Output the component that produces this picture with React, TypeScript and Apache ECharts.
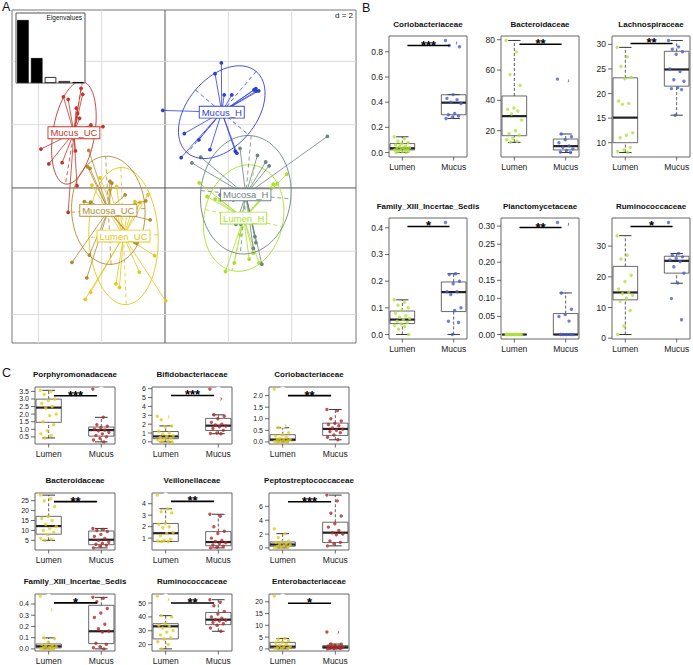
import React, { useEffect, useRef } from "react";
import * as echarts from "echarts";

const FONT = '"Liberation Sans", Arial, Helvetica, sans-serif';

// ---------------- Panel A : class scores (d = 2) ----------------
const pcaGroupNames = ["Mucus_UC", "Mucosa_UC", "Lumen_UC", "Mucus_H", "Mucosa_H", "Lumen_H"];
const pcaMucusUC = [[-3.21, 2.88], [-3.06, 2.8], [-2.65, 3.15], [-2.6, 2.96], [-2.8, 2.52], [-2.76, 2.36], [-2.7, 2.2], [-2.34, 1.99], [-2.46, 1.85], [-1.96, 1.94], [-3.92, 1.23], [-3.67, 0.76], [-3.25, 0.8], [-2.83, 1.17], [-2.78, 0.07], [-3.06, -0.77]];
const pcaMucosaUC = [[-2.41, 1.19], [-2.45, 0.67], [-2.37, 0.62], [-2.55, -0.43], [-2.35, -0.45], [-2.94, -2.35], [-2.47, -2.84], [-2.39, -2.12], [-1.74, 0.21], [-1.68, 0.15], [-0.61, -0.41], [-0.95, -1.72], [-0.89, -1.75], [-1.11, -0.85], [-1.26, -0.22], [-0.47, -1.01]];
const pcaLumenUC = [[-2.31, 0.09], [-2.52, -3.52], [-2.35, -3.3], [-1.55, -3.03], [-1.44, -3.14], [-0.81, -2.66], [-0.33, -2.14], [0.02, -3.57], [-0.95, -0.43], [-0.79, -0.46], [-1.53, 0.04], [-1.17, -0.6], [-0.92, -1.64], [-2.05, 0.32], [-1.74, -0.06], [-0.54, -0.22]];
const pcaMucusH = [[-0.07, 2.45], [1.78, 3.95], [1.58, 3.61], [1.87, 2.94], [2.11, 2.94], [2.87, 3.14], [2.96, 3.07], [2.88, 3.06], [2.81, 3.1], [0.61, 1.72], [1.07, 1.52], [1.42, 1.21], [0.51, 0.96], [2.22, 1.16], [2.27, 1.1]];
const pcaMucosaH = [[5.13, 1.63], [0.85, 0.79], [1.13, 0.97], [2.37, 1.25], [2.92, 1.03], [3.18, 0.82], [3.29, 0.7], [3.06, -2.41], [2.87, -1.73], [2.39, -1.14], [2.24, -1.15], [1.86, -0.15], [2.84, -1.54], [2.79, -1.91], [2.16, -0.38], [1.74, -0.22]];
const pcaLumenH = [[3.85, 0.44], [3.54, 0.14], [3.42, 0.12], [3.35, -0.01], [1.08, 0.16], [1.33, -0.27], [1.58, -0.35], [1.74, -0.38], [1.91, -2.64], [2.19, -2.37], [2.66, -2.25], [2.97, -2.37], [2.79, -2.06], [2.37, -1.48]];
const pcaGroups = [pcaMucusUC, pcaMucosaUC, pcaLumenUC, pcaMucusH, pcaMucosaH, pcaLumenH];
const pcaGridValues = [-4, -2, 0, 2, 4];
const eigenvalues = [6.3, 2.5, 0.6, 0.2, 0.1];
const eigenIndex = ["1", "2", "3", "4", "5"];

const pcaColors = ["#c2362b", "#b38b2e", "#e5c619", "#2e3fd6", "#6e8383", "#a9e02c"];

// ---------------- Panel B ----------------
const sampleGroups = ["Lumen", "Mucus"];
const bTitles = ["Coriobacteriaceae", "Bacteroidaceae", "Lachnospiraceae", "Family_XIII_Incertae_Sedis", "Planctomycetaceae", "Ruminococcaceae"];
// [lower whisker, Q1, median, Q3, upper whisker]
const bLumenStats = [
  [0, 0.021, 0.034, 0.071, 0.125],
  [12.3, 16.7, 29.6, 42.9, 79.5],
  [8.0, 10.0, 15.1, 23.2, 29.4],
  [0, 0.041, 0.056, 0.088, 0.13],
  [0, 0, 0, 0, 0],
  [1.2, 12.5, 14.9, 23.4, 33.4],
];
const bMucusStats = [
  [0.27, 0.3, 0.396, 0.459, 0.46],
  [5.6, 7.3, 9.8, 14.5, 17.8],
  [15.6, 21.5, 24.9, 28.6, 30.8],
  [0, 0.086, 0.159, 0.197, 0.228],
  [0, 0, 0, 0.058, 0.115],
  [17.9, 21.2, 25.2, 26.7, 27.6],
];
const bLumenValues = [
  [0.125, 0.11, 0.09, 0.08, 0.07, 0.06, 0.05, 0.05, 0.04, 0.04, 0.035, 0.03, 0.03, 0.02, 0.02, 0.01, 0.01, 0.005, 0, 0],
  [79.5, 72, 57, 50, 35, 34, 33, 31, 27, 20, 18, 17, 15, 14, 13, 12.3],
  [29.4, 27.5, 25.5, 23.3, 23, 18.5, 18, 17.8, 12, 11.5, 11, 9, 8.5, 8.2, 8],
  [0.13, 0.12, 0.11, 0.1, 0.09, 0.08, 0.07, 0.065, 0.06, 0.055, 0.05, 0.045, 0.04, 0.035, 0.03, 0.02, 0],
  [0, 0, 0, 0, 0, 0, 0, 0, 0, 0, 0, 0, 0, 0, 0, 0],
  [33.4, 27, 25.8, 20.5, 18.5, 16, 15, 14.5, 14, 13, 12, 9, 4, 1.2],
];
const bMucusValues = [
  [0.89, 0.87, 0.85, 0.84, 0.46, 0.43, 0.42, 0.4, 0.39, 0.31, 0.3, 0.29, 0.28, 0.27],
  [54, 53, 17.8, 16, 14, 12, 10, 9, 8, 7, 6, 5.6],
  [30.8, 29.5, 29, 28.5, 28, 25, 24.5, 22.8, 22.5, 21.2, 21, 20.8, 15.6],
  [0.42, 0.228, 0.225, 0.2, 0.19, 0.16, 0.16, 0.15, 0.1, 0.09, 0.05, 0.045, 0],
  [0.31, 0.305, 0.115, 0.07, 0.055, 0.05, 0.037, 0, 0, 0, 0, 0],
  [37.7, 27.6, 27, 26.5, 26, 25.5, 25, 23.3, 21.2, 18, 12.9, 6.0],
];
const bTickLabels = [
  ["0.0", "0.2", "0.4", "0.6", "0.8"],
  ["20", "40", "60", "80"],
  ["10", "15", "20", "25", "30"],
  ["0.0", "0.1", "0.2", "0.3", "0.4"],
  ["0.00", "0.05", "0.10", "0.15", "0.20", "0.25", "0.30"],
  ["0", "10", "20", "30"],
];
const bSigLevels = [0.85, 77, 30.2, 0.405, 0.296, 36.4];
const bStars = ["***", "**", "**", "*", "**", "*"];

// ---------------- Panel C ----------------
const cTitles = ["Porphyromonadaceae", "Bifidobacteriaceae", "Coriobacteriaceae", "Bacteroidaceae", "Veillonellaceae", "Peptostreptococcaceae", "Family_XIII_Incertae_Sedis", "Ruminococcaceae", "Enterobacteriaceae"];
const cLumenStats = [
  [0.43, 1.46, 2.43, 2.99, 3.57],
  [0, 0.36, 0.62, 1.17, 1.8],
  [0, 0.05, 0.1, 0.31, 0.61],
  [5.0, 8.1, 12.2, 17.1, 27.8],
  [0.7, 0.71, 1.43, 2.28, 3.56],
  [0, 0.24, 0.49, 0.86, 2.06],
  [0, 0.009, 0.023, 0.044, 0.098],
  [16.9, 24.1, 33.2, 35.1, 40.9],
  [0, 0.29, 0.96, 2.77, 4.43],
];
const cMucusStats = [
  [0.17, 0.55, 0.95, 1.15, 1.79],
  [0.92, 1.28, 1.83, 2.65, 3.05],
  [0.09, 0.28, 0.56, 0.81, 1.4],
  [1.2, 2.8, 5.3, 9.7, 11.0],
  [0.15, 0.34, 0.66, 1.57, 3.08],
  [0.29, 0.77, 2.2, 3.71, 7.63],
  [0, 0.047, 0.157, 0.388, 0.459],
  [29.6, 34.4, 38, 43.2, 52.4],
  [0, 0.28, 0.69, 1.38, 2.07],
];
const cLumenValues = [
  [3.57, 3.5, 3.3, 3.0, 2.9, 2.7, 2.5, 2.4, 2.0, 1.9, 1.5, 1.3, 0.9, 0.7, 0.6, 0.43],
  [2.9, 2.8, 2.5, 1.8, 1.7, 1.2, 1.0, 0.9, 0.7, 0.6, 0.5, 0.4, 0.3, 0.2, 0.1, 0.05, 0],
  [2.28, 0.7, 0.61, 0.4, 0.3, 0.25, 0.2, 0.15, 0.1, 0.1, 0.08, 0.05, 0.03, 0.02, 0, 0],
  [27.8, 26, 25, 22, 17, 16, 15, 13, 12, 11, 10, 9, 8, 6, 5.5, 5],
  [4.75, 3.56, 3.3, 3.2, 2.3, 2.2, 2.0, 1.9, 1.5, 1.4, 1.2, 0.9, 0.8, 0.75, 0.7, 0.7],
  [2.75, 2.06, 1.5, 1.0, 0.9, 0.8, 0.6, 0.5, 0.4, 0.3, 0.2, 0.1, 0.05, 0],
  [0.47, 0.35, 0.098, 0.09, 0.06, 0.04, 0.03, 0.025, 0.02, 0.015, 0.01, 0.005, 0, 0, 0],
  [55, 52.5, 40.9, 40, 35, 34, 33, 32, 30, 29, 27, 25, 24, 22, 20, 16.9],
  [22.4, 4.43, 4.0, 3.5, 2.8, 2.5, 2.0, 1.5, 1.0, 0.8, 0.5, 0.3, 0.2, 0],
];
const cMucusValues = [
  [3.65, 1.79, 1.3, 1.2, 1.1, 1.0, 0.95, 0.9, 0.8, 0.7, 0.6, 0.5, 0.4, 0.3, 0.17],
  [5.95, 4.85, 3.05, 2.9, 2.6, 2.2, 2.0, 1.9, 1.8, 1.7, 1.5, 1.3, 1.0, 0.95, 0.92],
  [1.4, 1.35, 1.0, 0.9, 0.8, 0.75, 0.7, 0.6, 0.55, 0.5, 0.45, 0.4, 0.3, 0.2, 0.09],
  [11, 10.5, 10, 9.5, 8, 7, 6, 5, 4, 3.5, 3, 2.5, 2, 1.2],
  [3.08, 2.9, 2.0, 1.6, 1.4, 1.0, 0.8, 0.7, 0.6, 0.5, 0.4, 0.3, 0.2, 0.15],
  [7.63, 6.8, 5.0, 4.6, 3.5, 3.0, 2.5, 2.2, 2.0, 1.9, 1.0, 0.8, 0.6, 0.29],
  [0.459, 0.45, 0.42, 0.36, 0.32, 0.28, 0.22, 0.18, 0.16, 0.15, 0.05, 0.04, 0.02, 0.01, 0],
  [52.4, 50.5, 48, 44, 42, 40, 39, 38, 37.5, 37, 36, 35, 34, 32, 29.6],
  [7.2, 7.0, 2.07, 2.0, 1.5, 1.2, 1.0, 0.8, 0.6, 0.5, 0.3, 0.2, 0.1, 0],
];
const cTickLabels = [
  ["0.5", "1.0", "1.5", "2.0", "2.5", "3.0", "3.5"],
  ["0", "1", "2", "3", "4", "5", "6"],
  ["0.0", "0.5", "1.0", "1.5", "2.0"],
  ["5", "10", "15", "20", "25"],
  ["1", "2", "3", "4"],
  ["0", "2", "4", "6"],
  ["0.0", "0.1", "0.2", "0.3", "0.4"],
  ["20", "30", "40", "50"],
  ["0", "5", "10", "15", "20"],
];
const cSigLevels = [3.21, 5.23, 2.0, 24.5, 4.2, 6.67, 0.41, 50, 19.4];
const cStars = ["***", "***", "**", "**", "**", "***", "*", "**", "*"];

// ---------------- helpers ----------------
function classStats(pts: number[][]) {
  const n = pts.length;
  let mx = 0, my = 0;
  pts.forEach((p) => { mx += p[0]; my += p[1]; });
  mx /= n; my /= n;
  let sxx = 0, syy = 0, sxy = 0;
  pts.forEach((p) => {
    sxx += (p[0] - mx) ** 2; syy += (p[1] - my) ** 2; sxy += (p[0] - mx) * (p[1] - my);
  });
  sxx /= n; syy /= n; sxy /= n;
  const tr = (sxx + syy) / 2;
  const d = Math.sqrt(((sxx - syy) / 2) ** 2 + sxy ** 2);
  const l1 = tr + d, l2 = Math.max(tr - d, 0);
  const th = 0.5 * Math.atan2(2 * sxy, sxx - syy);
  return { mx, my, a: 1.5 * Math.sqrt(l1), b: 1.5 * Math.sqrt(l2), th };
}

const jit = (i: number) => ((((i * 0.618034) % 1) + 1) % 1 - 0.5) * 0.32;

function buildOption() {
  const grids: any[] = [];
  const xAxes: any[] = [];
  const yAxes: any[] = [];
  const series: any[] = [];
  const graphics: any[] = [];

  // ---- PCA ----
  grids.push({ left: 12, top: 10, width: 344, height: 333, show: true, borderColor: "#777", borderWidth: 1, z: 0 });
  xAxes.push({ type: "value", gridIndex: 0, min: -4.834, max: 6.034, show: false, splitLine: { show: false } });
  yAxes.push({ type: "value", gridIndex: 0, min: -4.9, max: 5.624, show: false, splitLine: { show: false } });

  const gridData: number[][] = [];
  pcaGridValues.forEach((v) => gridData.push([0, v]));
  pcaGridValues.forEach((v) => gridData.push([1, v]));
  series.push({
    type: "custom", xAxisIndex: 0, yAxisIndex: 0, z: 1, silent: true, data: gridData,
    renderItem: (params: any, api: any) => {
      const cs = params.coordSys;
      const dim = api.value(0), v = api.value(1);
      const stroke = v === 0 ? "#555" : "#dcdcdc";
      if (dim === 0) {
        const p = api.coord([v, 0]);
        return { type: "line", shape: { x1: p[0], y1: cs.y, x2: p[0], y2: cs.y + cs.height }, style: { stroke, lineWidth: 1 } };
      }
      const p = api.coord([0, v]);
      return { type: "line", shape: { x1: cs.x, y1: p[1], x2: cs.x + cs.width, y2: p[1] }, style: { stroke, lineWidth: 1 } };
    },
  });

  const stats = pcaGroups.map((g) => classStats(g));
  const drawOrder = [5, 2, 4, 1, 3, 0];
  drawOrder.forEach((gi) => {
    const pts = pcaGroups[gi];
    const st = stats[gi];
    const color = pcaColors[gi];
    series.push({
      type: "custom", xAxisIndex: 0, yAxisIndex: 0, z: 2, silent: true, data: pts,
      renderItem: (params: any, api: any) => {
        const p = api.coord([api.value(0), api.value(1)]);
        const q = api.coord([st.mx, st.my]);
        return {
          type: "group",
          children: [
            { type: "line", shape: { x1: q[0], y1: q[1], x2: p[0], y2: p[1] }, style: { stroke: color, lineWidth: 0.8 } },
            { type: "circle", shape: { cx: p[0], cy: p[1], r: 1.9 }, style: { fill: color } },
          ],
        };
      },
    });
    series.push({
      type: "custom", xAxisIndex: 0, yAxisIndex: 0, z: 2, silent: true, data: [[st.mx, st.my]],
      renderItem: (params: any, api: any) => {
        const ct = Math.cos(st.th), sn = Math.sin(st.th);
        const poly: number[][] = [];
        for (let k = 0; k <= 72; k++) {
          const t = (k / 72) * Math.PI * 2;
          const ex = st.a * Math.cos(t), ey = st.b * Math.sin(t);
          poly.push(api.coord([st.mx + ex * ct - ey * sn, st.my + ex * sn + ey * ct]));
        }
        const a1 = api.coord([st.mx + st.a * ct, st.my + st.a * sn]);
        const a2 = api.coord([st.mx - st.a * ct, st.my - st.a * sn]);
        const b1 = api.coord([st.mx - st.b * sn, st.my + st.b * ct]);
        const b2 = api.coord([st.mx + st.b * sn, st.my - st.b * ct]);
        return {
          type: "group",
          children: [
            { type: "polyline", shape: { points: poly }, style: { stroke: color, fill: "none", lineWidth: 0.9 } },
            { type: "line", shape: { x1: a1[0], y1: a1[1], x2: a2[0], y2: a2[1] }, style: { stroke: color, lineWidth: 0.8, lineDash: [4, 3] } },
            { type: "line", shape: { x1: b1[0], y1: b1[1], x2: b2[0], y2: b2[1] }, style: { stroke: color, lineWidth: 0.8, lineDash: [4, 3] } },
          ],
        };
      },
    });
  });
  series.push({
    type: "custom", xAxisIndex: 0, yAxisIndex: 0, z: 5, silent: true,
    data: drawOrder.map((gi) => [stats[gi].mx, stats[gi].my, gi]),
    renderItem: (params: any, api: any) => {
      const gi = api.value(2);
      const p = api.coord([api.value(0), api.value(1)]);
      return {
        type: "text", x: p[0], y: p[1],
        style: {
          text: pcaGroupNames[gi], fill: pcaColors[gi], font: `9.5px ${FONT}`,
          align: "center", verticalAlign: "middle", textAlign: "center", textVerticalAlign: "middle",
          backgroundColor: "#fff", borderColor: pcaColors[gi], borderWidth: 0.9, padding: [1, 2, 0, 2],
        },
      };
    },
  });

  // eigenvalue inset
  grids.push({ left: 16, top: 13, width: 69, height: 70, show: true, backgroundColor: "#fff", borderColor: "#555", borderWidth: 1, z: 3 });
  xAxes.push({ type: "category", gridIndex: 1, data: eigenIndex, show: false });
  yAxes.push({ type: "value", gridIndex: 1, min: 0, max: 7.0, show: false, splitLine: { show: false } });
  series.push({
    type: "bar", xAxisIndex: 1, yAxisIndex: 1, z: 4, silent: true, barCategoryGap: "16%",
    data: eigenvalues.map((v, i) => ({
      value: v,
      itemStyle: { color: i < 2 ? "#000" : "#fff", borderColor: "#000", borderWidth: 0.8 },
    })),
  });
  graphics.push({ type: "text", x: 82, y: 14, z: 10, style: { text: "Eigenvalues", font: `6.5px ${FONT}`, fill: "#111", align: "right", textAlign: "right", verticalAlign: "top", textVerticalAlign: "top" } });
  graphics.push({ type: "text", x: 353, y: 15, z: 10, style: { text: "d = 2", font: `8px ${FONT}`, fill: "#111", align: "right", textAlign: "right", verticalAlign: "middle", textVerticalAlign: "middle" } });

  // ---- box plots ----
  const addBox = (
    left: number, top: number, width: number, height: number, title: string,
    lStats: number[], mStats: number[], lVals: number[], mVals: number[],
    ticks: string[], sig: number, stars: string, lColor: string, mColor: string, titleGap: number, tickFont: number
  ) => {
    const gi = grids.length;
    const all = [...lStats, ...mStats, ...lVals, ...mVals];
    const lo = Math.min(...all), hi = Math.max(...all);
    const span = hi - lo || 1;
    const ymin = lo - 0.04 * span, ymax = hi + 0.04 * span;
    const xmin = 0.74, xmax = 2.26;
    grids.push({ left, top, width, height, show: true, borderColor: "#666", borderWidth: 1 });
    xAxes.push({ type: "value", gridIndex: gi, min: xmin, max: xmax, show: false, splitLine: { show: false } });
    yAxes.push({ type: "value", gridIndex: gi, min: ymin, max: ymax, show: false, splitLine: { show: false } });
    const ax = { xAxisIndex: gi, yAxisIndex: gi, silent: true };

    // boxes
    series.push({
      type: "custom", ...ax, z: 2,
      data: [[1, ...lStats], [2, ...mStats]],
      renderItem: (params: any, api: any) => {
        const x = api.value(0);
        const v = [1, 2, 3, 4, 5].map((k) => api.value(k));
        const c = (xx: number, yy: number) => api.coord([xx, yy]);
        const hw = 0.24, cw = 0.12;
        const stroke = "#333";
        const pTop = c(x - hw, v[3]), pBot = c(x + hw, v[1]);
        const wl = (y1: number, y2: number) => {
          const a = c(x, y1), b = c(x, y2);
          return { type: "line", shape: { x1: a[0], y1: a[1], x2: b[0], y2: b[1] }, style: { stroke, lineWidth: 0.8, lineDash: [3, 2] } };
        };
        const hl = (y: number, w: number, lw: number) => {
          const a = c(x - w, y), b = c(x + w, y);
          return { type: "line", shape: { x1: a[0], y1: a[1], x2: b[0], y2: b[1] }, style: { stroke: "#222", lineWidth: lw } };
        };
        return {
          type: "group",
          children: [
            wl(v[3], v[4]), wl(v[0], v[1]),
            hl(v[4], cw, 0.9), hl(v[0], cw, 0.9),
            { type: "rect", shape: { x: pTop[0], y: pTop[1], width: pBot[0] - pTop[0], height: Math.max(pBot[1] - pTop[1], 0.01) }, style: { fill: "none", stroke: "#444", lineWidth: 0.8 } },
            hl(v[2], hw, 2.2),
          ],
        };
      },
    });
    // jittered points
    [[lVals, lColor, 1], [mVals, mColor, 2]].forEach(([vals, color, cx]: any) => {
      series.push({
        type: "scatter", ...ax, z: 3, symbol: "circle", symbolSize: 3.4,
        itemStyle: { color, opacity: 0.8 },
        data: (vals as number[]).map((v, i) => [cx + jit(i), v]),
      });
    });
    // outliers (values beyond the whiskers)
    [[lVals, lStats, lColor, 1], [mVals, mStats, mColor, 2]].forEach(([vals, st, color, cx]: any) => {
      const out = (vals as number[]).filter((v) => v > st[4] + 1e-9 || v < st[0] - 1e-9);
      if (!out.length) return;
      series.push({
        type: "scatter", ...ax, z: 3, symbol: "emptyCircle", symbolSize: 3.2,
        itemStyle: { color: "#fff", borderColor: color, borderWidth: 0.6, opacity: 0.9 },
        data: out.map((v) => [cx, v]),
      });
    });
    // y ticks
    series.push({
      type: "custom", ...ax, z: 2,
      data: ticks.map((t) => [xmin, parseFloat(t)]),
      renderItem: (params: any, api: any) => {
        const cs = params.coordSys;
        const p = api.coord([xmin, api.value(1)]);
        return {
          type: "group",
          children: [
            { type: "line", shape: { x1: cs.x - 4, y1: p[1], x2: cs.x, y2: p[1] }, style: { stroke: "#444", lineWidth: 0.8 } },
            { type: "text", x: cs.x - 6, y: p[1], style: { text: ticks[params.dataIndex], font: `${tickFont}px ${FONT}`, fill: "#222", align: "right", textAlign: "right", verticalAlign: "middle", textVerticalAlign: "middle" } },
          ],
        };
      },
    });
    // x ticks
    series.push({
      type: "custom", ...ax, z: 2,
      data: [[1, ymin], [2, ymin]],
      renderItem: (params: any, api: any) => {
        const cs = params.coordSys;
        const p = api.coord([api.value(0), ymin]);
        const y0 = cs.y + cs.height;
        return {
          type: "group",
          children: [
            { type: "line", shape: { x1: p[0], y1: y0, x2: p[0], y2: y0 + 3.5 }, style: { stroke: "#444", lineWidth: 0.8 } },
            { type: "text", x: p[0], y: y0 + 9.5, style: { text: sampleGroups[params.dataIndex], font: `8.5px ${FONT}`, fill: "#222", align: "center", textAlign: "center", verticalAlign: "middle", textVerticalAlign: "middle" } },
          ],
        };
      },
    });
    // significance bar
    series.push({
      type: "custom", ...ax, z: 4,
      data: [[1.1, 1.92, sig]],
      renderItem: (params: any, api: any) => {
        const a = api.coord([api.value(0), api.value(2)]);
        const b = api.coord([api.value(1), api.value(2)]);
        return {
          type: "group",
          children: [
            { type: "line", shape: { x1: a[0], y1: a[1], x2: b[0], y2: b[1] }, style: { stroke: "#000", lineWidth: 1.6 } },
            { type: "text", x: (a[0] + b[0]) / 2, y: a[1] - 0.5, style: { text: stars, font: `bold 13px ${FONT}`, fill: "#000", align: "center", textAlign: "center", verticalAlign: "middle", textVerticalAlign: "middle" } },
          ],
        };
      },
    });
    graphics.push({
      type: "text", x: left + width / 2, y: top - titleGap, z: 10,
      style: { text: title, font: `bold 8px ${FONT}`, fill: "#111", align: "center", textAlign: "center", verticalAlign: "middle", textVerticalAlign: "middle" },
    });
  };

  const bLefts = [389, 501, 612];
  const bTops = [36, 218];
  bTitles.forEach((t, i) => {
    addBox(bLefts[i % 3], bTops[Math.floor(i / 3)], 78, 121, t, bLumenStats[i], bMucusStats[i], bLumenValues[i], bMucusValues[i], bTickLabels[i], bSigLevels[i], bStars[i], "#b2e23c", "#4b5cd6", 12, 8.5);
  });
  const cLefts = [35, 152, 269];
  const cTops = [387, 493, 594];
  cTitles.forEach((t, i) => {
    addBox(cLefts[i % 3], cTops[Math.floor(i / 3)], 80, 57, t, cLumenStats[i], cMucusStats[i], cLumenValues[i], cMucusValues[i], cTickLabels[i], cSigLevels[i], cStars[i], "#e3cc1c", "#b5282a", 13, 7);
  });

  // panel letters
  [["A", 2, 7], ["B", 362, 8], ["C", 2, 373]].forEach(([t, x, y]: any) => {
    graphics.push({ type: "text", x, y, z: 10, style: { text: t, font: `12.5px ${FONT}`, fill: "#111", align: "left", textAlign: "left", verticalAlign: "middle", textVerticalAlign: "middle" } });
  });

  return {
    animation: false,
    backgroundColor: "#fff",
    grid: grids,
    xAxis: xAxes,
    yAxis: yAxes,
    series,
    graphic: graphics,
  };
}

export default function App() {
  const ref = useRef<HTMLDivElement>(null);
  useEffect(() => {
    if (!ref.current) return;
    const chart = echarts.init(ref.current, undefined, { renderer: "svg" });
    chart.setOption(buildOption() as any);
    return () => chart.dispose();
  }, []);
  return <div ref={ref} style={{ position: "fixed", left: 0, top: 0, width: 693, height: 665, background: "#fff" }} />;
}
